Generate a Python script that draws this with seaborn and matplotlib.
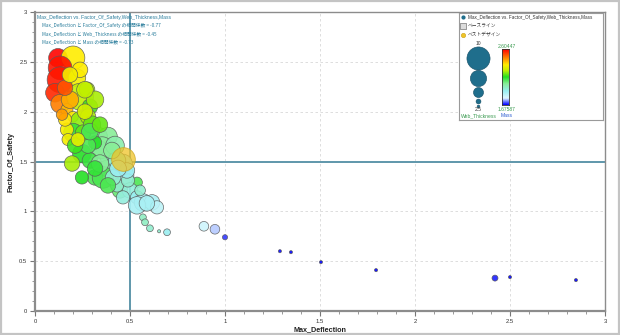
import matplotlib
matplotlib.use("Agg")
import numpy as np
import pandas as pd
import matplotlib.pyplot as plt
import matplotlib.colors as mcolors
from matplotlib.patches import Rectangle
from matplotlib.ticker import MultipleLocator, FuncFormatter
import seaborn as sns

# ---- design exploration results ----
max_deflection = [0.121, 0.200, 0.132, 0.132, 0.105, 0.221, 0.132, 0.237, 0.274, 0.289,
                  0.168, 0.200, 0.247, 0.279, 0.200, 0.168, 0.174, 0.332, 0.384, 0.247,
                  0.195, 0.353, 0.395, 0.458, 0.384, 0.316, 0.247, 0.353, 0.316, 0.358,
                  0.463, 0.537, 0.447, 0.500, 0.537, 0.568, 0.616, 0.642, 0.432, 0.537,
                  0.589, 0.463, 0.568, 0.579, 0.605, 0.653, 0.695, 0.421, 0.432, 0.289,
                  0.342, 0.279, 0.411, 0.489, 0.211, 0.253, 0.158, 0.300, 0.316, 0.263,
                  0.184, 0.158, 0.237, 0.384, 0.484, 0.553, 0.889, 0.947, 1.000, 1.289,
                  1.347, 1.505, 1.795, 2.421, 2.500, 2.847, 0.289, 0.342, 0.405, 0.437,
                  0.316, 0.263, 0.184, 0.142, 0.226]
factor_of_safety = [2.54, 2.54, 2.44, 2.32, 2.19, 2.34, 2.08, 2.15, 2.22, 2.05,
                    2.02, 1.95, 1.89, 1.95, 1.79, 1.82, 1.72, 1.75, 1.75, 1.58,
                    1.48, 1.61, 1.53, 1.36, 1.43, 1.34, 1.34, 1.64, 1.69, 1.34,
                    1.48, 1.29, 1.21, 1.21, 1.14, 1.09, 1.09, 1.04, 1.26, 1.06,
                    1.08, 1.14, 0.94, 0.89, 0.83, 0.80, 0.79, 1.66, 1.51, 1.51,
                    1.48, 1.66, 1.34, 1.31, 1.66, 1.79, 1.92, 1.87, 2.12, 2.00,
                    2.12, 2.24, 2.42, 1.26, 1.41, 1.21, 0.85, 0.82, 0.74, 0.60,
                    0.59, 0.49, 0.41, 0.33, 0.34, 0.31, 1.80, 1.87, 1.61, 1.43,
                    1.43, 2.22, 2.37, 1.97, 1.72]
web_thickness = [8.1, 9.3, 9.3, 9.8, 8.1, 7.8, 8.1, 10.0, 7.3, 7.3,
                 6.4, 6.0, 9.3, 7.3, 8.1, 6.7, 6.4, 8.1, 8.1, 8.1,
                 7.3, 7.8, 8.1, 9.3, 7.8, 7.3, 6.7, 8.8, 6.7, 8.8,
                 8.1, 6.0, 7.3, 7.3, 6.7, 7.8, 7.3, 6.7, 6.7, 7.8,
                 7.3, 6.7, 4.8, 4.8, 4.8, 2.8, 4.8, 8.1, 7.8, 7.3,
                 7.8, 7.3, 7.3, 6.7, 7.3, 7.3, 6.7, 7.8, 7.8, 7.3,
                 7.8, 7.3, 7.3, 7.3, 7.3, 6.0, 5.7, 5.7, 4.2, 2.8,
                 2.8, 2.8, 2.8, 4.5, 2.8, 2.8, 7.6, 7.3, 7.6, 7.6,
                 7.3, 7.6, 7.3, 6.2, 6.8]
mass = [2.600, 2.344, 2.586, 2.577, 2.558, 2.326, 2.465, 2.252, 2.233, 2.159,
        2.400, 2.344, 2.214, 2.233, 2.120, 2.326, 2.326, 2.029, 2.029, 2.140,
        2.233, 2.047, 1.908, 1.880, 2.001, 2.094, 2.140, 2.029, 2.140, 2.094,
        1.908, 2.094, 2.066, 1.936, 1.908, 1.880, 1.880, 1.843, 1.954, 1.880,
        1.880, 1.936, 1.973, 1.973, 1.954, 1.954, 1.908, 2.001, 1.954, 2.112,
        2.029, 2.094, 1.954, 1.954, 2.159, 2.186, 2.354, 2.186, 2.233, 2.280,
        2.419, 2.511, 2.344, 2.094, 1.908, 1.954, 1.815, 1.769, 1.704, 1.680,
        1.678, 1.677, 1.676, 1.694, 1.678, 1.676, 2.094, 2.186, 2.029, 1.908,
        2.120, 2.252, 2.326, 2.437, 2.307]

best_deflection = [0.463]
best_safety = [1.53]
best_thickness = [9.3]

deflection_limit = 0.5
safety_limit = 1.5

mass_range = [1.67587, 2.60447]
thickness_range = [2.5, 10.0]
thickness_legend = [10.0, 8.125, 6.25, 4.375, 2.5]
corr_names = ["Factor_Of_Safety", "Web_Thickness", "Mass"]
corr_values = ["-0.77", "-0.45", "-0.73"]

df = pd.DataFrame({"Max_Deflection": max_deflection,
                   "Factor_Of_Safety": factor_of_safety,
                   "Web_Thickness": web_thickness,
                   "Mass": mass})

# ---- styling ----
sns.set_theme(style="white")
FONT = ["Liberation Sans", "Noto Sans CJK JP", "DejaVu Sans"]
JP = ["Noto Sans CJK JP", "DejaVu Sans"]
plt.rcParams["font.family"] = FONT

mass_cmap = mcolors.LinearSegmentedColormap.from_list(
    "mass", [(0.0, "#0000ff"), (0.12, "#dff7ff"), (0.25, "#98eef0"),
             (0.38, "#88ee98"), (0.5, "#22e022"), (0.62, "#c4f000"),
             (0.72, "#ffee00"), (0.85, "#ff8000"), (1.0, "#ff0000")])
size_norm = mcolors.PowerNorm(gamma=2.5, vmin=thickness_range[0], vmax=thickness_range[1])
size_span = (5, 370)


def bubble_area(w):
    n = float(np.clip(size_norm(w), 0, 1))
    return size_span[0] + n * (size_span[1] - size_span[0])


W, H = 620, 335
fig = plt.figure(figsize=(W / 100, H / 100), dpi=100)
fig.patch.set_facecolor("white")
ax = fig.add_axes([35 / W, 1 - 311 / H, 570 / W, 299 / H])

# reference limits
ax.axvline(deflection_limit, color="#5f97ab", lw=1.4, zorder=1)
ax.axhline(safety_limit, color="#5f97ab", lw=1.4, zorder=1)

sns.scatterplot(data=df, x="Max_Deflection", y="Factor_Of_Safety",
                hue="Mass", palette=mass_cmap, hue_norm=tuple(mass_range),
                size="Web_Thickness", sizes=size_span, size_norm=size_norm,
                alpha=0.9, edgecolor="#5a5a5a", linewidth=0.5,
                legend=False, ax=ax, zorder=3)

sns.scatterplot(x=best_deflection, y=best_safety, s=bubble_area(best_thickness[0]),
                color="#f0c427", alpha=0.75, edgecolor="#c9a21a", linewidth=0.6,
                legend=False, ax=ax, zorder=4)

ax.set_xlim(0, 3)
ax.set_ylim(0, 3)
ax.xaxis.set_major_locator(MultipleLocator(0.5))
ax.yaxis.set_major_locator(MultipleLocator(0.5))
ax.xaxis.set_minor_locator(MultipleLocator(0.1))
ax.yaxis.set_minor_locator(MultipleLocator(0.1))
fmt = FuncFormatter(lambda v, p: f"{v:g}")
ax.xaxis.set_major_formatter(fmt)
ax.yaxis.set_major_formatter(fmt)
ax.tick_params(axis="both", which="major", length=3.5, width=0.8, color="#777777",
               labelsize=4.2, labelcolor="#333333", pad=2, bottom=True, left=True)
ax.tick_params(axis="both", which="minor", length=2, width=0.6, color="#888888",
               bottom=True, left=True)
ax.grid(True, which="major", color="#d8d8d8", linestyle=(0, (3, 3)), lw=0.6)
ax.set_axisbelow(True)
for side, sp in ax.spines.items():
    sp.set_color("#8c8c8c")
    sp.set_linewidth(1.6 if side in ("left", "bottom") else 1.0)
ax.set_xlabel("Max_Deflection", fontsize=5.2, fontweight="bold", color="#222222", labelpad=2)
ax.set_ylabel("Factor_Of_Safety", fontsize=5.2, fontweight="bold", color="#222222", labelpad=3)


def px_text(x, y, s, **kw):
    fig.text(x / W, 1 - y / H, s, **kw)


# correlation summary
teal = "#2a7d9c"
px_text(37, 17, "Max_Deflection vs. Factor_Of_Safety,Web_Thickness,Mass",
        fontsize=3.6, color=teal, va="center")
for i, (nm, cv) in enumerate(zip(corr_names, corr_values)):
    px_text(42, 25.5 + 8.3 * i, f"Max_Deflection と {nm} の相関係数 = {cv}",
            fontsize=3.4, color=teal, va="center", family=JP)

# legend panel
lx0, ly0, lw_, lh_ = 459, 13, 144, 107
lax = fig.add_axes([lx0 / W, 1 - (ly0 + lh_) / H, lw_ / W, lh_ / H])
lax.set_xlim(0, lw_)
lax.set_ylim(lh_, 0)
lax.set_xticks([])
lax.set_yticks([])
for sp in lax.spines.values():
    sp.set_color("#9a9a9a")
    sp.set_linewidth(0.8)
lax.set_facecolor("white")

legend_teal = "#1f6e8c"
lax.scatter([4], [4.5], s=4, color=legend_teal)
lax.text(9, 4.5, "Max_Deflection vs. Factor_Of_Safety,Web_Thickness,Mass",
         fontsize=3.3, color="#333333", va="center")
lax.scatter([4], [13.5], s=14, marker="s", facecolor="#dcdcdc", edgecolor="#8a8a8a", linewidth=0.6)
lax.text(9, 13.5, "ベースライン", fontsize=3.4, color="#333333", va="center", family=JP)
lax.scatter([4], [22], s=10, color="#f0c427", edgecolor="#c9a21a", linewidth=0.4)
lax.text(9, 22, "ベストデザイン", fontsize=3.4, color="#333333", va="center", family=JP)

# bubble-size key, stacked from the smallest upward
key_scale = 0.75
y_bottom = 94.0
for w in sorted(thickness_legend):
    area = bubble_area(w) * key_scale
    d_px = np.sqrt(area) / 0.72
    cy = y_bottom - d_px / 2
    lax.scatter([19], [cy], s=area, color=legend_teal, edgecolor="#174f66", linewidth=0.4)
    y_bottom -= d_px + 1.0
green_txt = "#3a9a50"
lax.text(19, 31, f"{thickness_range[1]:g}", fontsize=3.6, color="#333333", ha="center", va="center")
lax.text(19, 97, f"{thickness_range[0]:g}", fontsize=3.6, color="#333333", ha="center", va="center")
lax.text(1.5, 102.5, "Web_Thickness", fontsize=3.6, color=green_txt, va="center")

# mass colour key
cax = fig.add_axes([502 / W, 1 - 105 / H, 7 / W, 56 / H])
grad = np.linspace(mass_range[1], mass_range[0], 200).reshape(-1, 1)
cax.imshow(grad, aspect="auto", cmap=mass_cmap, vmin=mass_range[0], vmax=mass_range[1],
           extent=(0, 1, mass_range[0], mass_range[1]))
cax.set_xticks([])
cax.set_yticks([])
for sp in cax.spines.values():
    sp.set_color("#333333")
    sp.set_linewidth(0.6)
lax.text(48, 33.5, f"{mass_range[1]:.5f}", fontsize=3.6, color=green_txt, ha="center", va="center")
lax.text(48, 97, f"{mass_range[0]:.5f}", fontsize=3.6, color=green_txt, ha="center", va="center")
lax.text(48, 102.5, "Mass", fontsize=3.6, color="#2a5bd0", ha="center", va="center")

# outer frame of the figure
fig.patches.append(Rectangle((0.002, 0.003), 0.996, 0.994, transform=fig.transFigure,
                             fill=False, edgecolor="#c4c4c4", linewidth=1.6))

fig.savefig("out.png", dpi=100, facecolor="white")
